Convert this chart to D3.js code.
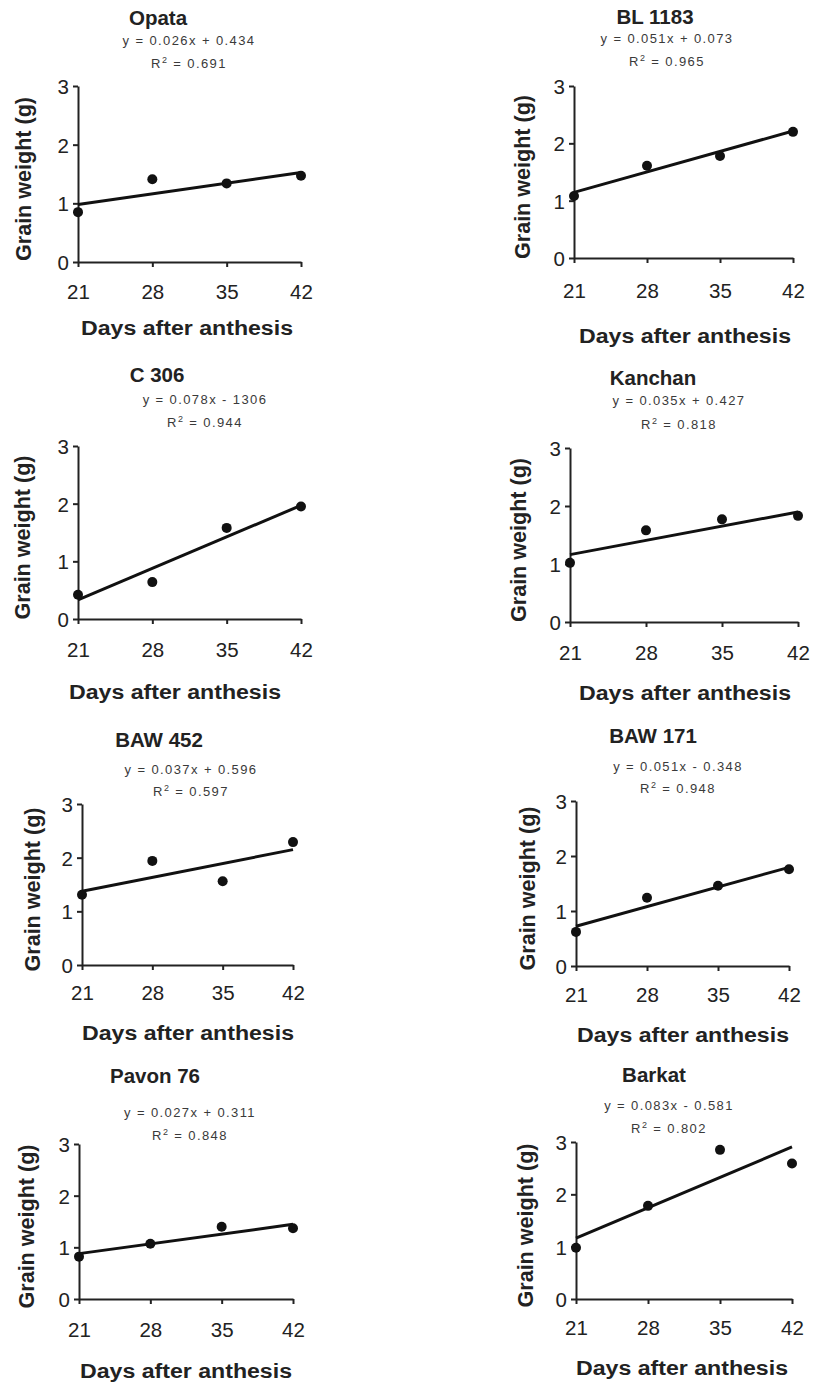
<!DOCTYPE html>
<html>
<head>
<meta charset="utf-8">
<script src="https://cdn.jsdelivr.net/npm/d3@7"></script>
<style>
  body { margin: 0; background: #fff; }
  svg { display: block; font-family: "Liberation Sans", Arial, sans-serif; }
  .title { font-weight: bold; font-size: 20.5px; fill: #222; }
  .axis-label { font-weight: bold; font-size: 20px; fill: #222; }
  .eq { font-size: 13px; fill: #3a3a3a; letter-spacing: 1.4px; }
  .tick text { font-size: 20.5px; fill: #222; }
  .domain, .tick line { stroke: #222; stroke-width: 2; }
</style>
</head>
<body>
<div id="chart"></div>
<script>
// Data
const cultivars = ["Opata", "BL 1183", "C 306", "Kanchan", "BAW 452", "BAW 171", "Pavon 76", "Barkat"];
const days = [21, 28, 35, 42];
const yTicks = [0, 1, 2, 3];

// grain weight (g) at each of the days above
const opata = [0.85, 1.41, 1.34, 1.47];
const bl1183 = [1.08, 1.61, 1.78, 2.2];
const c306 = [0.42, 0.64, 1.58, 1.95];
const kanchan = [1.02, 1.58, 1.77, 1.83];
const baw452 = [1.31, 1.94, 1.56, 2.29];
const baw171 = [0.62, 1.24, 1.46, 1.76];
const pavon76 = [0.82, 1.07, 1.4, 1.37];
const barkat = [0.98, 1.78, 2.85, 2.59];
const weights = [opata, bl1183, c306, kanchan, baw452, baw171, pavon76, barkat];

// linear trend lines
const slopes = [0.026, 0.051, 0.078, 0.035, 0.037, 0.051, 0.027, 0.083];
const intercepts = [0.434, 0.073, -1.306, 0.427, 0.596, -0.348, 0.311, -0.581];
const eqLabels = [
  "y = 0.026x + 0.434", "y = 0.051x + 0.073", "y = 0.078x - 1306", "y = 0.035x + 0.427",
  "y = 0.037x + 0.596", "y = 0.051x - 0.348", "y = 0.027x + 0.311", "y = 0.083x - 0.581"
];
const r2Labels = ["0.691", "0.965", "0.944", "0.818", "0.597", "0.948", "0.848", "0.802"];

// Panel frames (plot box + text anchors), in page pixels
const frames = [
  { l: 78, r: 301, t: 86, b: 262, title: [158, 25], eq: [189, 45], r2: 68, tickY: 299, xl: [187, 335], yl: 23 },
  { l: 574, r: 793, t: 86, b: 258, title: [655, 24], eq: [667, 43], r2: 66, tickY: 298, xl: [685, 343], yl: 522 },
  { l: 78, r: 301, t: 446, b: 619, title: [157, 382], eq: [205, 404], r2: 427, tickY: 657, xl: [175, 699], yl: 22 },
  { l: 570, r: 798, t: 448, b: 622, title: [653, 385], eq: [679, 405], r2: 429, tickY: 660, xl: [685, 700], yl: 518 },
  { l: 82, r: 293, t: 804, b: 965, title: [159, 747], eq: [191, 774], r2: 796, tickY: 1000, xl: [188, 1040], yl: 32 },
  { l: 576, r: 789, t: 801, b: 966, title: [653, 743], eq: [678, 771], r2: 793, tickY: 1002, xl: [683, 1042], yl: 527 },
  { l: 79, r: 293, t: 1144, b: 1299, title: [155, 1083], eq: [190, 1117], r2: 1140, tickY: 1337, xl: [186, 1378], yl: 26 },
  { l: 576, r: 792, t: 1142, b: 1299, title: [654, 1082], eq: [669, 1110], r2: 1133, tickY: 1335, xl: [682, 1375], yl: 525 }
];

const WIDTH = 814;
const HEIGHT = 1385;

const svg = d3
  .select("#chart")
  .append("svg")
  .attr("width", WIDTH)
  .attr("height", HEIGHT);

cultivars.forEach((name, i) => {
  const f = frames[i];
  const g = svg.append("g").attr("class", "panel");

  // Scales
  const x = d3.scaleLinear().domain([21, 42]).range([f.l, f.r]);
  const y = d3.scaleLinear().domain([0, 3]).range([f.b, f.t]);

  // Axes
  const xAxis = d3.axisBottom(x).tickValues(days).tickSize(5).tickSizeOuter(0);
  const yAxis = d3
    .axisLeft(y)
    .tickValues(yTicks)
    .tickFormat(d3.format("d"))
    .tickSize(5)
    .tickSizeOuter(0)
    .tickPadding(4);

  const gx = g.append("g").attr("transform", "translate(0," + f.b + ")").call(xAxis);
  gx.selectAll(".tick text").attr("y", f.tickY - f.b).attr("dy", null);

  const gy = g.append("g").attr("transform", "translate(" + f.l + ",0)").call(yAxis);
  gy.selectAll(".tick text").attr("dy", "0.36em");

  // Title and regression text
  g.append("text")
    .attr("class", "title")
    .attr("x", f.title[0])
    .attr("y", f.title[1])
    .attr("text-anchor", "middle")
    .text(name);

  g.append("text")
    .attr("class", "eq")
    .attr("x", f.eq[0])
    .attr("y", f.eq[1])
    .attr("text-anchor", "middle")
    .text(eqLabels[i]);

  const r2 = g.append("text")
    .attr("class", "eq")
    .attr("x", f.eq[0])
    .attr("y", f.r2)
    .attr("text-anchor", "middle");
  r2.append("tspan").text("R");
  r2.append("tspan").attr("dy", -5).style("font-size", "9px").text("2");
  r2.append("tspan").attr("dy", 5).text(" = " + r2Labels[i]);

  // Axis labels
  g.append("text")
    .attr("class", "axis-label")
    .attr("x", f.xl[0])
    .attr("y", f.xl[1])
    .attr("text-anchor", "middle")
    .attr("textLength", 212)
    .attr("lengthAdjust", "spacingAndGlyphs")
    .text("Days after anthesis");

  g.append("text")
    .attr("class", "axis-label")
    .attr("text-anchor", "middle")
    .style("font-size", "22px")
    .attr("textLength", 164)
    .attr("lengthAdjust", "spacingAndGlyphs")
    .attr("transform", "translate(" + (f.yl + 8) + "," + ((f.t + f.b) / 2 + 5) + ") rotate(-90)")
    .text("Grain weight (g)");

  // Trend line
  const line = d3.line().x((d) => x(d)).y((d) => y(slopes[i] * d + intercepts[i]));
  g.append("path")
    .attr("d", line([21, 42]))
    .attr("fill", "none")
    .attr("stroke", "#111")
    .attr("stroke-width", 3);

  // Points
  g.selectAll(".dot")
    .data(days)
    .enter()
    .append("circle")
    .attr("class", "dot")
    .attr("cx", (d) => x(d))
    .attr("cy", (d, j) => y(weights[i][j]))
    .attr("r", 5)
    .attr("fill", "#111");
});
</script>
</body>
</html>
